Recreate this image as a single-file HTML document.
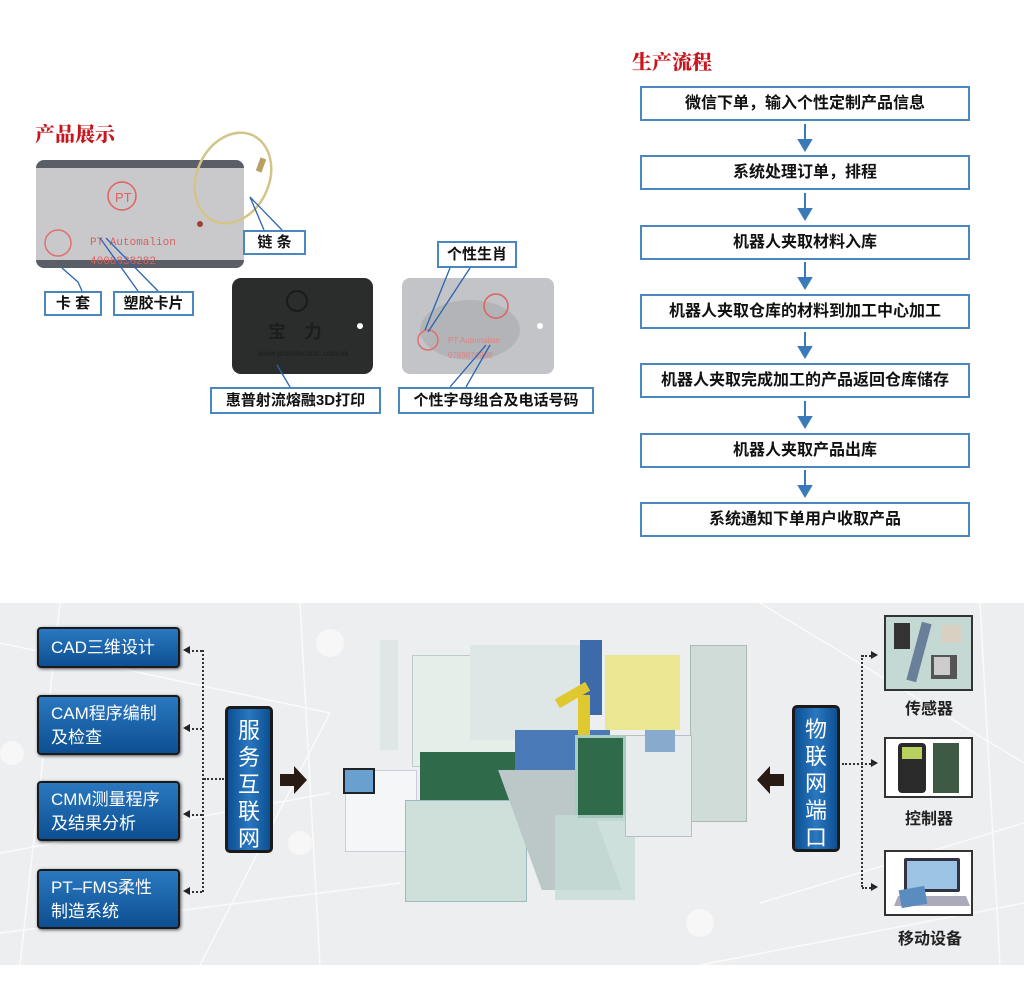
<!DOCTYPE html>
<html><head><meta charset="utf-8"><style>
body{margin:0;width:1024px;height:1004px;background:#fff;position:relative;overflow:hidden;font-family:"Liberation Sans","Noto Sans CJK SC",sans-serif}
.a{position:absolute}
.t{color:#c8161e;font-family:"Liberation Serif","Noto Serif CJK SC",serif;font-weight:900;font-size:20px}
.fb{position:absolute;left:640px;width:326px;height:31px;border:2px solid #4a86c0;font-weight:bold;font-size:16px;text-align:center;line-height:31px;color:#111}
.lb{position:absolute;border:2px solid #4a86c0;background:#fff;font-weight:bold;font-size:15px;text-align:center;color:#111;box-sizing:border-box}
.bb{position:absolute;left:37px;width:143px;border:2px solid #1a1a1a;border-radius:4px;background:linear-gradient(#2a78c0,#0d4f92);color:#fff;font-size:17px;line-height:24px;padding-left:12px;box-sizing:border-box;box-shadow:1px 1px 3px #555}
.vb{position:absolute;width:48px;height:147px;border:3px solid #1a1a1a;border-radius:5px;background:linear-gradient(90deg,#0d4f92,#2a78c0,#0d4f92);color:#fff;font-size:22px;line-height:27px;text-align:center;box-sizing:border-box;padding-top:8px}
.dl{position:absolute;border-left:2px dotted #333}
.dh{position:absolute;border-top:2px dotted #333}
.pb{position:absolute;left:884px;width:89px;border:2px solid #333;background:#f4f4f4;box-sizing:border-box}
.pl{position:absolute;font-weight:bold;font-size:16px;color:#222}
</style></head><body>
<div class="a t" style="left:35px;top:118px">产品展示</div>
<div class="a t" style="left:632px;top:46px">生产流程</div>

<div class="fb" style="top:86px">微信下单，输入个性定制产品信息</div>
<div class="fb" style="top:155px">系统处理订单，排程</div>
<div class="fb" style="top:225px">机器人夹取材料入库</div>
<div class="fb" style="top:294px">机器人夹取仓库的材料到加工中心加工</div>
<div class="fb" style="top:363px">机器人夹取完成加工的产品返回仓库储存</div>
<div class="fb" style="top:433px">机器人夹取产品出库</div>
<div class="fb" style="top:502px">系统通知下单用户收取产品</div>
<svg class="a" style="left:0;top:0" width="1024" height="560">
<g fill="#3a7ab8" stroke="#3a7ab8" stroke-width="2">
<line x1="805" y1="124" x2="805" y2="144"/><polygon points="799,140 811,140 805,150"/>
<line x1="805" y1="193" x2="805" y2="213"/><polygon points="799,209 811,209 805,219"/>
<line x1="805" y1="262" x2="805" y2="282"/><polygon points="799,278 811,278 805,288"/>
<line x1="805" y1="332" x2="805" y2="351"/><polygon points="799,347 811,347 805,357"/>
<line x1="805" y1="401" x2="805" y2="421"/><polygon points="799,417 811,417 805,427"/>
<line x1="805" y1="470" x2="805" y2="490"/><polygon points="799,486 811,486 805,496"/>
</g>
<rect x="36" y="160" width="208" height="108" rx="8" fill="#5a5e66"/>
<rect x="36" y="168" width="208" height="92" fill="#c9c9cb"/>
<circle cx="122" cy="196" r="14" fill="none" stroke="#e06060" stroke-width="1.5"/>
<text x="115" y="202" font-size="13" fill="#e06060">PT</text>
<text x="90" y="245" font-size="11" fill="#d86060" font-family="Liberation Mono">PT Automalion</text>
<text x="90" y="264" font-size="11" fill="#d86060" font-family="Liberation Mono">4008838282</text>
<circle cx="58" cy="243" r="13" fill="none" stroke="#e07070" stroke-width="1.5"/>
<ellipse cx="233" cy="178" rx="36" ry="47" transform="rotate(25 233 178)" fill="none" stroke="#d4c488" stroke-width="2.5"/>
<rect x="258" y="158" width="6" height="14" fill="#b8a060" transform="rotate(20 261 165)"/>
<circle cx="200" cy="224" r="3" fill="#a04030"/>
<rect x="232" y="278" width="141" height="96" rx="9" fill="#2b2d2d"/>
<circle cx="297" cy="301" r="10" fill="none" stroke="#1a1a1a" stroke-width="2"/>
<text x="268" y="338" font-size="18" fill="#1d1d1d" font-weight="bold">宝　力</text>
<text x="258" y="356" font-size="8" fill="#1d1d1d">www.prototechnic.com.hk</text>
<circle cx="360" cy="326" r="3" fill="#fff"/>
<rect x="402" y="278" width="152" height="96" rx="8" fill="#c2c4c8"/>
<ellipse cx="470" cy="330" rx="50" ry="30" fill="#a8aaae" opacity=".6"/>
<circle cx="496" cy="306" r="12" fill="none" stroke="#e06060" stroke-width="1.5"/>
<text x="448" y="343" font-size="8" fill="#e08080">PT Automalion</text>
<text x="448" y="358" font-size="8" fill="#e08080">0769879998</text>
<circle cx="428" cy="340" r="10" fill="none" stroke="#e07070" stroke-width="1.5"/>
<circle cx="540" cy="326" r="3" fill="#fff"/>
<g stroke="#2a64b0" stroke-width="1.3" fill="none">
<polyline points="62,268 78,282 82,291"/>
<polyline points="100,238 138,291"/><polyline points="106,238 158,291"/>
<polyline points="250,197 264,230"/><polyline points="250,197 282,230"/>
<polyline points="450,268 425,330"/><polyline points="470,268 428,332"/>
<polyline points="486,345 450,387"/><polyline points="490,345 466,387"/>
<polyline points="277,365 290,387"/>
</g>
</svg>
<div class="lb" style="left:243px;top:230px;width:63px;height:25px;line-height:21px">链 条</div>
<div class="lb" style="left:44px;top:291px;width:58px;height:25px;line-height:21px">卡 套</div>
<div class="lb" style="left:113px;top:291px;width:81px;height:25px;line-height:21px">塑胶卡片</div>
<div class="lb" style="left:437px;top:241px;width:80px;height:27px;line-height:23px">个性生肖</div>
<div class="lb" style="left:210px;top:387px;width:171px;height:27px;line-height:23px">惠普射流熔融3D打印</div>
<div class="lb" style="left:398px;top:387px;width:196px;height:27px;line-height:23px">个性字母组合及电话号码</div>

<div class="a" style="left:0;top:603px;width:1024px;height:362px;background:#edeef0"></div>
<svg class="a" style="left:0;top:603px" width="1024" height="362">
<g stroke="#fafafa" stroke-width="1.5" fill="none">
<line x1="0" y1="40" x2="330" y2="110"/><line x1="60" y1="0" x2="20" y2="362"/>
<line x1="300" y1="0" x2="320" y2="362"/><line x1="0" y1="250" x2="330" y2="190"/>
<line x1="330" y1="110" x2="200" y2="362"/><line x1="760" y1="0" x2="1024" y2="160"/>
<line x1="760" y1="300" x2="1024" y2="220"/><line x1="980" y1="0" x2="1000" y2="362"/>
<line x1="0" y1="330" x2="400" y2="280"/><line x1="700" y1="362" x2="1024" y2="300"/>
</g>
<g fill="#f7f7f8"><circle cx="330" cy="40" r="14"/><circle cx="12" cy="150" r="12"/><circle cx="300" cy="240" r="12"/><circle cx="700" cy="320" r="14"/></g>
</svg>
<div class="a" style="left:380px;top:640px;width:18px;height:110px;background:#dfe6e6"></div>
<div class="a" style="left:412px;top:655px;width:110px;height:110px;background:#e6eeea;border:1px solid #bcc"></div>
<div class="a" style="left:470px;top:645px;width:115px;height:95px;background:#dfe7e6"></div>
<div class="a" style="left:515px;top:730px;width:95px;height:50px;background:#4a79b8"></div>
<div class="a" style="left:580px;top:640px;width:22px;height:75px;background:#3d6aa8"></div>
<div class="a" style="left:605px;top:655px;width:75px;height:75px;background:#e8e37a;opacity:.8"></div>
<div class="a" style="left:690px;top:645px;width:55px;height:175px;background:#cfdcd8;border:1px solid #aabbb6"></div>
<div class="a" style="left:555px;top:690px;width:35px;height:10px;background:#e0c830;transform:rotate(-30deg)"></div>
<div class="a" style="left:578px;top:695px;width:12px;height:55px;background:#e0c830"></div>
<div class="a" style="left:345px;top:770px;width:70px;height:80px;background:#f4f6f8;border:1px solid #ccd"></div>
<div class="a" style="left:343px;top:768px;width:28px;height:22px;background:#6aa0d0;border:2px solid #222"></div>
<div class="a" style="left:420px;top:752px;width:95px;height:55px;background:#2f6a4a"></div>
<div class="a" style="left:405px;top:800px;width:120px;height:100px;background:#cfe0da;border:1px solid #9bb"></div>
<div class="a" style="left:520px;top:770px;width:80px;height:120px;background:#bcc7c8;transform:skewX(20deg)"></div>
<div class="a" style="left:575px;top:735px;width:45px;height:80px;background:#2f6a4a;border:3px solid #a9ccc2"></div>
<div class="a" style="left:555px;top:815px;width:80px;height:85px;background:#c4dcd6;opacity:.8"></div>
<div class="a" style="left:625px;top:735px;width:65px;height:100px;background:#e6ecec;border:1px solid #bbc"></div>
<div class="a" style="left:645px;top:730px;width:30px;height:22px;background:#8ac"></div>

<div class="bb" style="top:627px;height:41px;line-height:37px">CAD三维设计</div>
<div class="bb" style="top:695px;height:60px;padding-top:5px">CAM程序编制<br>及检查</div>
<div class="bb" style="top:781px;height:60px;padding-top:5px">CMM测量程序<br>及结果分析</div>
<div class="bb" style="top:869px;height:60px;padding-top:5px">PT–FMS柔性<br>制造系统</div>
<div class="dl" style="left:202px;top:650px;height:242px"></div>
<div class="dh" style="left:188px;top:650px;width:14px"></div>
<div class="dh" style="left:188px;top:728px;width:14px"></div>
<div class="dh" style="left:188px;top:814px;width:14px"></div>
<div class="dh" style="left:188px;top:891px;width:14px"></div>
<div class="dh" style="left:204px;top:778px;width:20px"></div>
<svg class="a" style="left:0;top:600px" width="1024" height="360">
<g fill="#222"><polygon points="183,50 190,46 190,54"/><polygon points="183,128 190,124 190,132"/><polygon points="183,214 190,210 190,218"/><polygon points="183,291 190,287 190,295"/>
<polygon points="878,55 871,51 871,59"/><polygon points="878,163 871,159 871,167"/><polygon points="878,287 871,283 871,291"/></g>
<g fill="#2a1a14"><polygon points="280,174 294,174 294,166 307,180 294,194 294,186 280,186"/>
<polygon points="784,174 770,174 770,166 757,180 770,194 770,186 784,186"/></g>
</svg>
<div class="vb" style="left:225px;top:706px">服<br>务<br>互<br>联<br>网</div>
<div class="vb" style="left:792px;top:705px">物<br>联<br>网<br>端<br>口</div>
<div class="dl" style="left:861px;top:655px;height:232px"></div>
<div class="dh" style="left:862px;top:655px;width:12px"></div>
<div class="dh" style="left:842px;top:763px;width:32px"></div>
<div class="dh" style="left:862px;top:887px;width:12px"></div>
<div class="pb" style="top:615px;height:76px;background:#c4d8d4">
<svg width="85" height="72"><rect x="8" y="6" width="16" height="26" fill="#333"/><rect x="28" y="5" width="10" height="60" fill="#6a7f9a" transform="rotate(15 33 35)"/><rect x="55" y="8" width="20" height="18" fill="#d8d0c0"/><rect x="45" y="38" width="26" height="24" fill="#555"/><rect x="48" y="40" width="16" height="18" fill="#ccc"/></svg></div>
<div class="pb" style="top:737px;height:61px;background:#fff">
<svg width="85" height="57"><rect x="12" y="4" width="28" height="50" rx="4" fill="#2a2a2a"/><rect x="16" y="8" width="20" height="12" fill="#b8d060"/><rect x="47" y="4" width="26" height="50" fill="#3f5a44"/></svg></div>
<div class="pb" style="top:850px;height:66px;background:#fff">
<svg width="85" height="62"><rect x="18" y="6" width="56" height="34" rx="2" fill="#334"/><rect x="21" y="9" width="50" height="28" fill="#9cc4e4"/><polygon points="12,44 80,44 84,54 8,54" fill="#aab"/><rect x="14" y="36" width="26" height="18" fill="#5a8cc0" transform="rotate(-10 27 45)"/></svg></div>
<div class="pl" style="left:905px;top:695px">传感器</div>
<div class="pl" style="left:905px;top:805px">控制器</div>
<div class="pl" style="left:898px;top:925px">移动设备</div>
</body></html>
